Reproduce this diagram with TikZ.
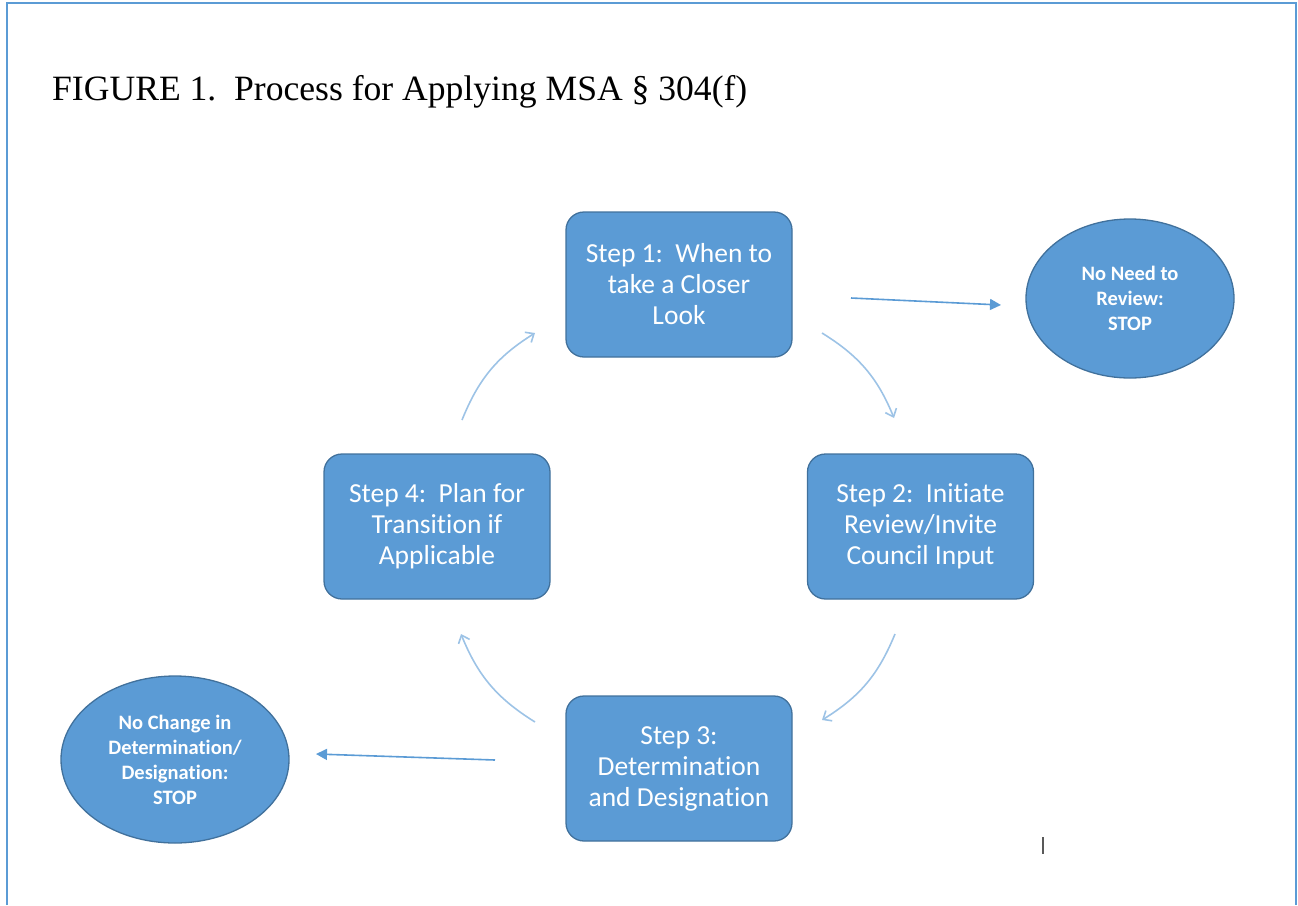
\documentclass[tikz,border=0pt]{standalone}
\usepackage{fontspec}
\setmainfont{Liberation Serif}
\newfontfamily\calfont[Ligatures=NoCommon]{Carlito}
\usetikzlibrary{shapes.geometric,arrows.meta}
\definecolor{fillb}{HTML}{5B9BD5}
\definecolor{edgeb}{HTML}{41719C}
\definecolor{arrl}{HTML}{9DC3E6}
\definecolor{frameb}{HTML}{5B9BD5}
\tikzset{
  stepbox/.style={draw=edgeb, line width=1.3pt, fill=fillb, rounded corners=18pt,
    minimum width=226pt, minimum height=145pt, inner sep=0pt, text=white,
    font=\calfont\fontsize{27.5}{31}\selectfont, align=center},
  stopoval/.style={ellipse, draw=edgeb, line width=1.3pt, fill=fillb, inner sep=0pt,
    text=white, font=\calfont\bfseries\fontsize{20.5}{25}\selectfont, align=center},
  cyc/.style={draw=arrl, line width=1.6pt, -{Straight Barb[length=7pt,width=12pt]}},
  stra/.style={draw=fillb, line width=1.6pt, -{Triangle[length=11pt,width=11pt]}}
}
\begin{document}
\begin{tikzpicture}[x=1pt,y=-1pt]
\useasboundingbox (0,0) rectangle (1298,905);
\draw[frameb, line width=1.5pt] (7,905) -- (7,3) -- (1296,3) -- (1296,905);
\node[anchor=base west, inner sep=0pt, font=\fontsize{35.6}{40}\selectfont] (title) at (52,100) {FIGURE 1.\ \ Process for Applying MSA § 304(f)};
\node[stepbox] (s1) at (679,284.5) {Step 1:\ \ When to\\take a Closer\\Look};
\node[stepbox] (s2) at (920.5,526.5) {Step 2:\ \ Initiate\\Review/Invite\\Council Input};
\node[stepbox] (s3) at (679,768.5) {Step 3:\\Determination\\and Designation};
\node[stepbox] (s4) at (437,526.5) {Step 4:\ \ Plan for\\Transition if\\Applicable};
\node[stopoval, minimum width=208pt, minimum height=159pt] (e1) at (1130,298.5) {No Need to\\Review:\\STOP};
\node[stopoval, minimum width=228pt, minimum height=167pt] (e2) at (175,759.5) {No Change in\\Determination/\\Designation:\\STOP};
\coordinate (a1s) at (851,298); \coordinate (a1e) at (1001,305);
\coordinate (a2s) at (495,760); \coordinate (a2e) at (316,754);
\draw[stra] (a1s) -- (a1e);
\draw[stra] (a2s) -- (a2e);
\coordinate (c1s) at (822,333); \coordinate (c1e) at (894,418);
\coordinate (c2s) at (895,634); \coordinate (c2e) at (822,720);
\coordinate (c3s) at (535,722); \coordinate (c3e) at (461,634);
\coordinate (c4s) at (462,420); \coordinate (c4e) at (535,333);
\draw[cyc] (c1s) to[bend left=18] (c1e);
\draw[cyc] (c2s) to[bend left=18] (c2e);
\draw[cyc] (c3s) to[bend left=18] (c3e);
\draw[cyc] (c4s) to[bend left=18] (c4e);
\draw[gray!70!black, line width=1.2pt] (1043,837) -- (1043,854);
\end{tikzpicture}
\end{document}
